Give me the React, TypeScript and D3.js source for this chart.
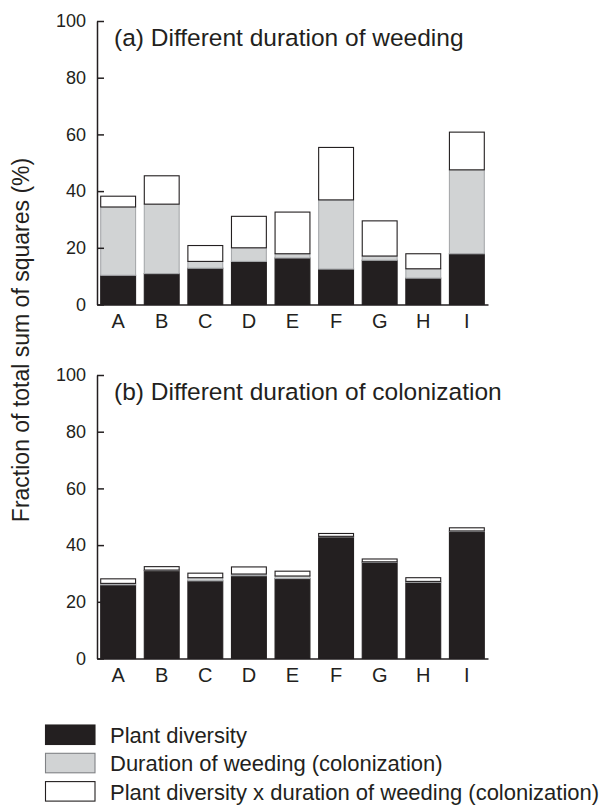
import React from 'react';
import { select, scaleBand, scaleLinear, axisLeft, axisBottom, stack } from 'd3';

const categories = ['A', 'B', 'C', 'D', 'E', 'F', 'G', 'H', 'I'];

// (a) different duration of weeding
const weedingDiversity = [10.3, 10.9, 12.8, 15.2, 16.4, 12.5, 15.6, 9.3, 17.9];
const weedingDuration = [24.1, 24.5, 2.4, 4.8, 1.5, 24.4, 1.5, 3.3, 29.6];
const weedingInteraction = [3.8, 10.0, 5.6, 11.1, 14.7, 18.5, 12.4, 5.3, 13.3];

// (b) different duration of colonization
const colonDiversity = [26.0, 31.0, 27.4, 29.2, 28.2, 42.9, 33.9, 26.9, 44.8];
const colonDuration = [0.5, 0.2, 1.1, 0.6, 0.9, 0.2, 0.2, 0.3, 0.2];
const colonInteraction = [1.6, 1.2, 1.6, 2.5, 1.7, 1.0, 1.0, 1.3, 1.1];

const yTicks = [0, 20, 40, 60, 80, 100];
const panelTitles = ['(a) Different duration of weeding', '(b) Different duration of colonization'];
const seriesKeys = ['diversity', 'duration', 'interaction'];
const seriesLabels = [
  'Plant diversity',
  'Duration of weeding (colonization)',
  'Plant diversity x duration of weeding (colonization)',
];
const yLabel = 'Fraction of total sum of squares (%)';

const fills = ['#231f20', '#d1d3d4', '#ffffff'];
const strokes = ['#231f20', '#a7a9ac', '#231f20'];
const FONT = '"Liberation Sans", Arial, Helvetica, sans-serif';
const INK = '#231f20';

const App: React.FC = () => {
  const svgRef = React.useRef<SVGSVGElement>(null);

  React.useEffect(() => {
    const svg = select(svgRef.current);
    svg.selectAll('*').remove();

    const x = scaleBand<string>()
      .domain(categories)
      .range([97, 488])
      .paddingInner(0.2)
      .paddingOuter(0.085);

    const panels = [
      { title: panelTitles[0], top: 21, bottom: 304.5, cols: [weedingDiversity, weedingDuration, weedingInteraction] },
      { title: panelTitles[1], top: 375, bottom: 658.5, cols: [colonDiversity, colonDuration, colonInteraction] },
    ];

    panels.forEach(p => {
      const y = scaleLinear().domain([0, 100]).range([p.bottom, p.top]);
      const rows = categories.map((c, i) => ({
        cat: c,
        diversity: p.cols[0][i],
        duration: p.cols[1][i],
        interaction: p.cols[2][i],
      }));
      const layers = stack<any>().keys(seriesKeys)(rows);

      const g = svg.append('g');

      layers.forEach((layer, li) => {
        g.append('g')
          .selectAll('rect')
          .data(layer)
          .join('rect')
          .attr('x', d => x(d.data.cat) as number)
          .attr('y', d => y(d[1]))
          .attr('width', x.bandwidth())
          .attr('height', d => y(d[0]) - y(d[1]))
          .attr('fill', fills[li])
          .attr('stroke', strokes[li])
          .attr('stroke-width', 1.1);
      });

      // y axis, ticks pointing inward
      const yAxis = g.append('g')
        .attr('transform', 'translate(97,0)')
        .call(axisLeft(y).tickValues(yTicks).tickSizeInner(-7).tickSizeOuter(0).tickPadding(11) as any);
      yAxis.attr('font-family', FONT).attr('font-size', 18);
      yAxis.selectAll('path, line').attr('stroke', INK).attr('stroke-width', 1.5);
      yAxis.selectAll('text').attr('fill', INK);

      // x axis, no ticks
      const xAxis = g.append('g')
        .attr('transform', `translate(0,${p.bottom})`)
        .call(axisBottom(x).tickSize(0).tickPadding(9) as any);
      xAxis.attr('font-family', FONT).attr('font-size', 20);
      xAxis.selectAll('path').attr('stroke', INK).attr('stroke-width', 1.5);
      xAxis.selectAll('text').attr('fill', INK);

      g.append('text')
        .attr('x', 114)
        .attr('y', p.top + 25)
        .attr('font-family', FONT)
        .attr('font-size', 24.5)
        .attr('fill', INK)
        .text(p.title);
    });

    svg.append('text')
      .attr('transform', 'translate(29,340) rotate(-90)')
      .attr('text-anchor', 'middle')
      .attr('font-family', FONT)
      .attr('font-size', 23)
      .attr('fill', INK)
      .text(yLabel);

    // legend
    const legend = svg.append('g').attr('transform', 'translate(45,725)');
    const rowStep = 28.3;
    seriesLabels.forEach((label, i) => {
      legend.append('rect')
        .attr('x', 0.5)
        .attr('y', i * rowStep)
        .attr('width', 49.5)
        .attr('height', 19.5)
        .attr('fill', fills[i])
        .attr('stroke', i === 1 ? '#808285' : INK)
        .attr('stroke-width', 1.1);
      legend.append('text')
        .attr('x', 65)
        .attr('y', i * rowStep + 18)
        .attr('font-family', FONT)
        .attr('font-size', 22)
        .attr('fill', INK)
        .text(label);
    });
  }, []);

  return (
    <svg
      ref={svgRef}
      width={614}
      height={805}
      style={{ position: 'absolute', left: 0, top: 0, background: '#fff' }}
    />
  );
};

export default App;
